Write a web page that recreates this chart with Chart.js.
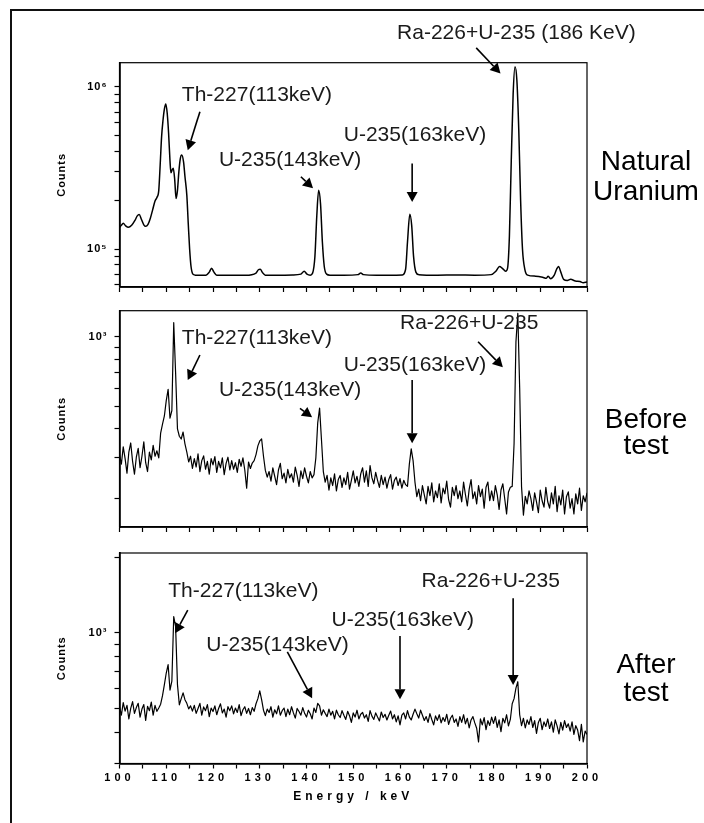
<!DOCTYPE html>
<html>
<head>
<meta charset="utf-8">
<title>Gamma spectra</title>
<script src="https://cdn.jsdelivr.net/npm/chart.js@4.4.1/dist/chart.umd.min.js"></script>
<style>
  html, body { margin: 0; padding: 0; background: #fff; overflow: hidden; }
  #page { position: relative; width: 704px; height: 823px; }
  #page canvas { position: absolute; left: 0; top: 0; }
  #frame { position: absolute; left: 10px; top: 9px; width: 760px; height: 900px;
           border-left: 2px solid #111; border-top: 2px solid #111; }
</style>
</head>
<body>
<div id="page">
  <div id="frame"></div>
  <canvas id="natural" width="704" height="823"></canvas>
  <canvas id="before" width="704" height="823"></canvas>
  <canvas id="after" width="704" height="823"></canvas>
</div>
<script>
// Natural uranium spectrum (keV / counts)
const naturalEnergy = [
  100.0, 100.4, 100.8, 101.3, 101.9, 102.6, 103.3, 103.8, 104.2, 104.7,
  105.2, 105.6, 106.1, 106.6, 107.1, 107.6, 108.0, 108.4, 108.7, 109.0,
  109.3, 109.6, 109.9, 110.2, 110.5, 110.8, 111.0, 111.3, 111.5, 111.8,
  112.1, 112.4, 112.7, 113.0, 113.3, 113.7, 114.0, 114.4, 114.7, 115.0,
  115.3, 115.7, 116.2, 117.0, 118.5, 119.2, 119.7, 120.2, 120.8, 123.0,
  125.0, 127.0, 129.2, 129.7, 130.1, 130.6, 131.2, 134.0, 137.0, 138.8,
  139.5, 140.1, 140.8, 141.3, 141.8, 142.2, 142.6, 143.0, 143.4, 143.8,
  144.3, 145.0, 148.0, 151.0, 151.6, 152.2, 155.0, 158.0, 160.5, 161.2,
  161.6, 162.1, 162.5, 162.9, 163.4, 164.0, 168.0, 172.0, 176.0, 179.5,
  180.5, 181.3, 181.9, 182.6, 183.0, 183.4, 183.8, 184.2, 184.6, 185.0,
  185.4, 185.8, 186.2, 186.7, 187.3, 189.0, 190.5, 191.3, 191.7, 192.2,
  193.0, 193.5, 193.9, 194.4, 195.0, 195.8, 196.5, 197.5, 198.5, 199.2,
  200.0
];
const naturalCounts = [
  1.36e5, 1.40e5, 1.44e5, 1.39e5, 1.36e5, 1.40e5, 1.50e5, 1.60e5, 1.63e5, 1.52e5,
  1.41e5, 1.38e5, 1.42e5, 1.55e5, 1.75e5, 1.98e5, 2.08e5, 2.30e5, 3.30e5, 4.90e5,
  6.20e5, 7.30e5, 7.85e5, 6.90e5, 5.20e5, 3.50e5, 2.95e5, 3.10e5, 3.15e5, 2.70e5,
  2.05e5, 2.30e5, 3.00e5, 3.60e5, 3.80e5, 3.45e5, 2.80e5, 2.15e5, 1.45e5, 1.00e5,
  7.8e4, 7.0e4, 6.9e4, 6.88e4, 6.9e4, 7.2e4, 7.6e4, 7.2e4, 6.9e4, 6.88e4,
  6.9e4, 6.88e4, 7.1e4, 7.45e4, 7.5e4, 7.15e4, 6.9e4, 6.9e4, 6.92e4, 7.0e4,
  7.3e4, 7.0e4, 6.9e4, 7.1e4, 9.0e4, 1.6e5, 2.3e5, 1.9e5, 1.1e5, 7.8e4,
  7.0e4, 6.9e4, 6.9e4, 6.95e4, 7.1e4, 6.95e4, 6.9e4, 6.9e4, 6.92e4, 7.5e4,
  1.1e5, 1.64e5, 1.4e5, 9.0e4, 7.2e4, 6.95e4, 6.9e4, 6.92e4, 6.9e4, 6.95e4,
  7.3e4, 7.8e4, 7.6e4, 7.3e4, 7.6e4, 1.2e5, 3.5e5, 9.0e5, 1.33e6, 1.1e6,
  5.5e5, 2.0e5, 1.0e5, 7.5e4, 6.9e4, 6.8e4, 6.7e4, 6.6e4, 6.8e4, 6.55e4,
  6.9e4, 7.5e4, 7.8e4, 7.2e4, 6.5e4, 6.4e4, 6.5e4, 6.35e4, 6.3e4, 6.2e4,
  6.25e4
];

// Sample spectra: one count value per 0.4 keV channel, starting at 100 keV
const channelStart = 100;
const channelWidth = 0.4;
const beforeCounts = [
  310, 282, 335, 298, 258, 318, 348, 290, 255, 302,
  330, 272, 305, 352, 286, 262, 318, 294, 340, 305,
  322, 300, 384, 420, 455, 530, 593, 445, 480, 1150,
  700, 400, 372, 362, 388, 345, 318, 288, 305, 270,
  298, 274, 312, 262, 292, 306, 268, 290, 255, 298,
  280, 304, 260, 290, 272, 300, 254, 284, 302, 266,
  292, 268, 286, 260, 296, 276, 300, 266, 222, 288,
  270, 285, 292, 310, 338, 355, 362, 305, 265, 248,
  262, 238, 272, 250, 230, 266, 284, 244, 258, 234,
  268, 246, 256, 236, 274, 252, 226, 264, 244, 272,
  250, 234, 262, 246, 254, 300, 425, 492, 360, 262,
  236, 252, 218, 246, 228, 256, 216, 242, 252, 224,
  246, 230, 260, 220, 240, 264, 234, 250, 226, 256,
  272, 236, 264, 226, 278, 246, 232, 260, 240, 224,
  252, 230, 248, 222, 242, 254, 220, 240, 248, 228,
  244, 222, 240, 230, 226, 282, 328, 292, 236, 204,
  220, 196, 228, 208, 190, 226, 206, 234, 194, 216,
  202, 232, 192, 222, 210, 238, 198, 184, 224, 206,
  228, 200, 216, 194, 236, 208, 186, 220, 242, 200,
  214, 190, 228, 204, 220, 182, 224, 236, 196, 216,
  196, 228, 208, 180, 218, 232, 200, 172, 214, 224,
  226, 345, 950, 1260, 600, 225, 170, 205, 190, 216,
  200, 178, 212, 194, 174, 218, 196, 184, 224, 194,
  182, 212, 190, 226, 176, 206, 188, 218, 172, 204,
  214, 182, 200, 172, 210, 190, 222, 178, 206, 194,
  212
];
const afterCounts = [
  505, 468, 525, 486, 512, 452, 498, 530, 476, 502,
  522, 460, 495, 516, 446, 508, 488, 528, 468, 512,
  485, 500, 518, 560, 620, 690, 745, 590, 640, 1160,
  1060, 620, 515, 545, 575, 540, 522, 496, 510, 486,
  512, 476, 498, 522, 468, 505, 488, 516, 462, 500,
  484, 510, 470, 498, 520, 478, 495, 460, 506, 488,
  510, 474, 500, 480, 516, 466, 492, 506, 476, 498,
  470, 502, 485, 520, 545, 586, 540, 490, 466, 495,
  480, 506, 460, 492, 474, 510, 468, 488, 500, 462,
  495, 470, 506, 478, 456, 498, 484, 468, 502, 476,
  460, 490, 474, 452, 500, 480, 522, 510, 468, 492,
  476, 462, 495, 468, 485, 452, 490, 470, 458, 488,
  468, 450, 485, 466, 438, 478, 460, 490, 452, 472,
  480, 456, 470, 442, 488, 464, 450, 478, 460, 444,
  482, 458, 472, 448, 468, 486, 452, 470, 440, 465,
  428, 468, 478, 452, 488, 460, 448, 472, 495, 474,
  456, 490, 468, 446, 462, 438, 475, 450, 428, 465,
  446, 470, 436, 458, 442, 472, 430, 455, 468, 438,
  452, 422, 462, 438, 470, 432, 455, 416, 448, 462,
  436, 415, 366, 452, 428, 458, 410, 445, 426, 460,
  434, 462, 418, 448, 402, 455, 436, 470, 424, 450,
  520, 545, 600, 637, 470, 425, 455, 416, 448, 430,
  462, 418, 445, 396, 438, 455, 410, 440, 422, 452,
  414, 440, 400, 448, 424, 394, 438, 408, 445, 418,
  432, 404, 440, 392, 425, 408, 370, 430, 366, 404,
  392
];

// Axis ticks
const energyMin = 100;
const energyMax = 200;
const energyTickStep = 5;
const energyLabelStep = 10;
const naturalTicks = [6e4, 7e4, 8e4, 9e4, 1e5, 2e5, 3e5, 4e5, 5e5, 6e5, 7e5, 8e5, 9e5, 1e6];
const beforeTicks = [200, 300, 400, 500, 600, 700, 800, 900, 1000];
const afterTicks = [300, 400, 500, 600, 700, 800, 900, 1000, 2000];
const decadeLabels = { 1000: '10³', 100000: '10⁵', 1000000: '10⁶' };

// Peak labels [text, keV, counts] and arrows [fromKeV, fromCounts, toKeV, toCounts]
const naturalNotes = [
  ['Ra-226+U-235 (186 KeV)', 184.9, 2.13e6],
  ['Th-227(113keV)', 129.4, 8.89e5],
  ['U-235(143keV)', 136.5, 3.53e5],
  ['U-235(163keV)', 163.2, 5.04e5]
];
const naturalArrows = [
  [176.3, 1.74e6, 181.5, 1.21e6],
  [117.2, 7.02e5, 114.6, 4.07e5],
  [138.8, 2.79e5, 141.4, 2.37e5],
  [162.6, 3.37e5, 162.6, 1.95e5]
];
const beforeNotes = [
  ['Th-227(113keV)', 129.4, 984],
  ['U-235(143keV)', 136.5, 589],
  ['U-235(163keV)', 163.2, 755],
  ['Ra-226+U-235', 174.8, 1142]
];
const beforeArrows = [
  [117.2, 834, 114.6, 650],
  [138.6, 491, 141.2, 449],
  [162.6, 650, 162.6, 347],
  [176.7, 951, 182.0, 738]
];
const afterNotes = [
  ['Th-227(113keV)', 126.5, 1459],
  ['U-235(143keV)', 133.8, 893],
  ['U-235(163keV)', 160.6, 1124],
  ['Ra-226+U-235', 179.4, 1600]
];
const afterArrows = [
  [114.6, 1232, 111.9, 994],
  [135.9, 839, 141.2, 547],
  [160.0, 970, 160.0, 542],
  [184.2, 1373, 184.2, 618]
];

const FONT = '"Liberation Sans", Arial, sans-serif';
Chart.defaults.font.family = FONT;
Chart.defaults.color = '#000';

function toPoints(energies, counts) {
  return counts.map((c, i) => ({ x: energies[i], y: c }));
}

function channelPoints(counts) {
  return counts.map((c, i) => ({ x: channelStart + i * channelWidth, y: c }));
}

// Axis text spacing: normal before the datasets, wide for layers drawn after them
const spacingPlugin = {
  id: 'spacing',
  beforeDraw(chart) { chart.ctx.letterSpacing = '1px'; },
  beforeDatasetsDraw(chart) { chart.ctx.letterSpacing = '4px'; }
};

function notesPlugin(notes, arrows, caption, captionTop, captionGap) {
  return {
    id: 'notes',
    afterDraw(chart) {
      const { ctx, chartArea: area, scales: { x, y } } = chart;
      ctx.save();
      ctx.letterSpacing = '0px';
      ctx.strokeStyle = '#000';
      ctx.lineWidth = 1.2;
      ctx.strokeRect(area.left, area.top, area.width, area.height);

      ctx.fillStyle = '#1a1a1a';
      ctx.font = '21px ' + FONT;
      ctx.textAlign = 'center';
      ctx.textBaseline = 'middle';
      notes.forEach(([text, e, c]) => {
        ctx.fillText(text, x.getPixelForValue(e), y.getPixelForValue(c));
      });

      ctx.fillStyle = '#000';
      ctx.lineWidth = 1.6;
      arrows.forEach(([e1, c1, e2, c2]) => {
        const x1 = x.getPixelForValue(e1), y1 = y.getPixelForValue(c1);
        const x2 = x.getPixelForValue(e2), y2 = y.getPixelForValue(c2);
        const ang = Math.atan2(y2 - y1, x2 - x1);
        const head = 10, half = 5.5;
        const bx = x2 - head * Math.cos(ang), by = y2 - head * Math.sin(ang);
        ctx.beginPath();
        ctx.moveTo(x1, y1);
        ctx.lineTo(bx, by);
        ctx.stroke();
        ctx.beginPath();
        ctx.moveTo(x2, y2);
        ctx.lineTo(bx + half * Math.sin(ang), by - half * Math.cos(ang));
        ctx.lineTo(bx - half * Math.sin(ang), by + half * Math.cos(ang));
        ctx.closePath();
        ctx.fill();
      });

      ctx.font = '28px ' + FONT;
      ctx.textBaseline = 'alphabetic';
      caption.forEach((line, i) => {
        ctx.fillText(line, area.right + 59, area.top + captionTop + i * captionGap);
      });
      ctx.restore();
    }
  };
}

function makeChart(id, cfg) {
  return new Chart(document.getElementById(id), {
    type: 'line',
    data: {
      datasets: [{
        data: cfg.points,
        borderColor: '#000',
        borderWidth: cfg.lineWidth,
        borderJoinStyle: 'round',
        pointRadius: 0,
        cubicInterpolationMode: cfg.smooth ? 'monotone' : 'default',
        tension: 0
      }]
    },
    options: {
      responsive: false,
      animation: false,
      events: [],
      layout: { padding: { left: 50, right: 117, top: cfg.top, bottom: cfg.bottom } },
      plugins: { legend: { display: false }, tooltip: { enabled: false } },
      scales: {
        x: {
          type: 'linear',
          min: energyMin,
          max: energyMax,
          afterFit: (scale) => { scale.height = cfg.xHeight; },
          ticks: {
            stepSize: energyTickStep,
            autoSkip: false,
            maxRotation: 0,
            padding: 3,
            z: 1,
            font: { size: 11, weight: 'bold' },
            callback: (v) => (cfg.xLabels && v % energyLabelStep === 0 ? String(v) : '')
          },
          grid: { drawOnChartArea: false, tickLength: 5, tickColor: '#000', tickWidth: 1.2, z: 1 },
          border: { color: '#000', width: 1.8, z: 1 },
          title: {
            display: cfg.xLabels,
            text: 'Energy / keV',
            font: { size: 12, weight: 'bold' },
            padding: { top: 0, bottom: 4.6 }
          }
        },
        y: {
          type: 'logarithmic',
          min: cfg.yMin,
          max: cfg.yMax,
          afterFit: (scale) => { scale.width = 69.5; },
          afterBuildTicks: (scale) => { scale.ticks = cfg.yTicks.map((v) => ({ value: v })); },
          ticks: {
            autoSkip: false,
            padding: 7,
            font: { size: 11, weight: 'bold' },
            callback: (v) => decadeLabels[v] || ''
          },
          grid: { drawOnChartArea: false, tickLength: 5, tickColor: '#000', tickWidth: 1.2 },
          border: { color: '#000', width: 1.8 },
          title: {
            display: true,
            text: 'Counts',
            font: { size: 11, weight: 'bold' },
            padding: { top: 5, bottom: 0 }
          }
        }
      }
    },
    plugins: [spacingPlugin, notesPlugin(cfg.notes, cfg.arrows, cfg.caption, cfg.captionTop, cfg.captionGap)]
  });
}

makeChart('natural', {
  points: toPoints(naturalEnergy, naturalCounts), smooth: true, lineWidth: 1.5,
  top: 62.7, bottom: 528, xHeight: 8, xLabels: false,
  yMin: 5.83e4, yMax: 1.41e6, yTicks: naturalTicks,
  notes: naturalNotes, arrows: naturalArrows,
  caption: ['Natural', 'Uranium'], captionTop: 107, captionGap: 30
});
makeChart('before', {
  points: channelPoints(beforeCounts), smooth: false, lineWidth: 1.2,
  top: 310.7, bottom: 288, xHeight: 8, xLabels: false,
  yMin: 151, yMax: 1295, yTicks: beforeTicks,
  notes: beforeNotes, arrows: beforeArrows,
  caption: ['Before', 'test'], captionTop: 117, captionGap: 26
});
makeChart('after', {
  points: channelPoints(afterCounts), smooth: false, lineWidth: 1.2,
  top: 553, bottom: 14.5, xHeight: 45, xLabels: true,
  yMin: 300, yMax: 2083, yTicks: afterTicks,
  notes: afterNotes, arrows: afterArrows,
  caption: ['After', 'test'], captionTop: 120, captionGap: 28
});
</script>
</body>
</html>
